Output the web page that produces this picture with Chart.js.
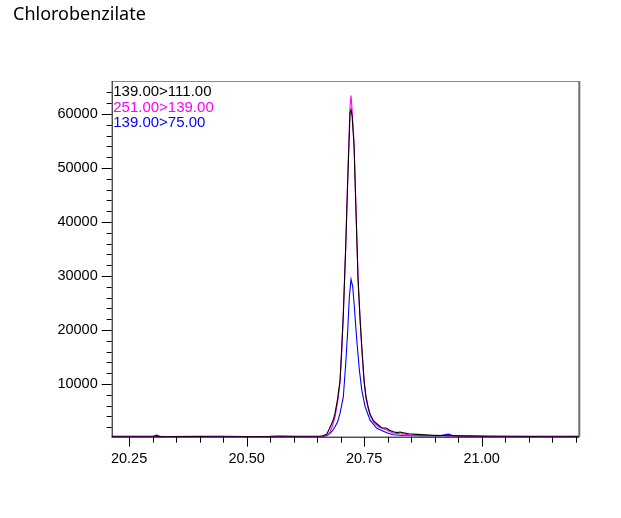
<!DOCTYPE html>
<html><head><meta charset="utf-8">
<script src="https://cdn.jsdelivr.net/npm/chart.js@4.4.1/dist/chart.umd.min.js"></script>
<style>html,body{margin:0;padding:0;background:#fff;}canvas{display:block;}</style>
</head><body>
<canvas id="c" width="621" height="518" style="width:621px;height:518px"></canvas>
<script>
const chartTitle = 'Chlorobenzilate';
const seriesNames = ['139.00>111.00', '251.00>139.00', '139.00>75.00'];
const seriesColors = ['#000000', '#ff00ff', '#0000ff'];

// 139.00>111.00 (black)
const blackTime = [20.213,20.25,20.30,20.33,20.40,20.45,20.50,20.55,20.57,20.60,20.64,20.655,20.662,20.6704,20.676,20.681,20.685,20.688,20.6935,20.6987,20.7022,20.7057,20.7108,20.7151,20.72,20.7221,20.7245,20.7285,20.7327,20.737,20.741,20.7449,20.7498,20.754,20.7583,20.7626,20.7705,20.7802,20.787,20.7981,20.8035,20.8122,20.82,20.8265,20.8335,20.845,20.862,20.88,20.8967,20.92,20.95,20.98,21.02,21.06,21.10,21.15,21.2076];
const blackCounts = [300,320,310,290,300,310,290,300,360,300,310,330,420,700,1700,2700,3500,4600,7200,10700,16500,23100,35400,47800,60200,60800,59500,54000,41700,29300,22500,16900,10700,7600,5800,4400,3100,2400,1900,1800,1450,1150,1000,1100,950,780,670,580,520,430,390,350,330,320,300,310,300];

// 251.00>139.00 (magenta)
const magentaTime = [20.213,20.30,20.40,20.50,20.60,20.65,20.665,20.672,20.678,20.683,20.688,20.6935,20.6987,20.7022,20.7057,20.7108,20.7151,20.72,20.7221,20.7245,20.7285,20.7327,20.737,20.741,20.7449,20.7498,20.754,20.7583,20.7626,20.7705,20.7802,20.7981,20.8035,20.8122,20.8265,20.845,20.87,20.90,20.95,21.00,21.10,21.2076];
const magentaCounts = [260,270,250,260,270,280,330,500,1200,2400,3900,6700,10300,16000,22800,35600,48600,61500,63400,60500,54500,42200,29600,22400,16600,10400,7300,5500,4200,2900,2100,1500,1250,900,800,600,480,420,340,300,270,260];

// 139.00>75.00 (blue)
const blueTime = [20.213,20.30,20.3083,20.315,20.40,20.50,20.60,20.66,20.6704,20.6774,20.683,20.688,20.6935,20.6987,20.7057,20.7108,20.7151,20.7185,20.7221,20.7257,20.7291,20.7342,20.7398,20.7449,20.7519,20.7626,20.7768,20.7981,20.8115,20.833,20.87,20.91,20.929,20.94,21.00,21.10,21.2076];
const blueCounts = [250,260,520,300,260,270,260,270,400,850,1400,2080,3000,4560,7650,13800,20000,26200,29400,28000,24300,18200,12600,8900,5800,3300,1800,960,600,450,380,400,720,420,300,270,260];

const xMajorTicks = [20.25, 20.50, 20.75, 21.00];
const xMinorTicks = [20.30,20.35,20.40,20.45,20.55,20.60,20.65,20.70,20.80,20.85,20.90,20.95,21.05,21.10,21.15,21.20];
const yMajorTicks = [10000, 20000, 30000, 40000, 50000, 60000];
const yMinorTicks = [2000,4000,6000,8000,12000,14000,16000,18000,22000,24000,26000,28000,32000,34000,36000,38000,42000,44000,46000,48000,52000,54000,56000,58000,62000,64000];

const xRange = [20.213, 21.2076];
const yRange = [240, 66100];

function toPoints(t, v) { return t.map((x, i) => ({ x: x, y: v[i] })); }

const frame = {
  id: 'frame',
  afterDraw(chart) {
    const { ctx, chartArea: a, scales: { x, y } } = chart;
    ctx.save();
    ctx.strokeStyle = '#8a8a8a'; ctx.lineWidth = 1;
    ctx.beginPath(); ctx.moveTo(a.left, a.top + 0.5); ctx.lineTo(a.right, a.top + 0.5); ctx.stroke();
    ctx.strokeStyle = '#707070'; ctx.lineWidth = 2;
    ctx.beginPath(); ctx.moveTo(a.right, a.top); ctx.lineTo(a.right, a.bottom); ctx.stroke();
    ctx.strokeStyle = '#000'; ctx.lineWidth = 1;
    ctx.beginPath();
    ctx.moveTo(a.left + 0.5, a.top); ctx.lineTo(a.left + 0.5, a.bottom + 0.5);
    ctx.moveTo(a.left, a.bottom + 0.5); ctx.lineTo(a.right, a.bottom + 0.5);
    ctx.stroke();
    ctx.beginPath();
    yMinorTicks.forEach(v => { const p = Math.round(y.getPixelForValue(v)) + 0.5; ctx.moveTo(a.left - 5, p); ctx.lineTo(a.left, p); });
    yMajorTicks.forEach(v => { const p = Math.round(y.getPixelForValue(v)) + 0.5; ctx.moveTo(a.left - 10, p); ctx.lineTo(a.left, p); });
    xMinorTicks.forEach(v => { const p = Math.round(x.getPixelForValue(v)) + 0.5; ctx.moveTo(p, a.bottom); ctx.lineTo(p, a.bottom + 6); });
    xMajorTicks.forEach(v => { const p = Math.round(x.getPixelForValue(v)) + 0.5; ctx.moveTo(p, a.bottom); ctx.lineTo(p, a.bottom + 10); });
    ctx.stroke();
    ctx.font = '15px "Liberation Sans"';
    ctx.textAlign = 'left'; ctx.textBaseline = 'alphabetic';
    seriesNames.forEach((n, i) => {
      ctx.fillStyle = seriesColors[i];
      ctx.fillText(n, a.left + 1.5, a.top + 15.4 + i * 15.4);
    });
    ctx.restore();
  }
};

new Chart(document.getElementById('c'), {
  type: 'line',
  data: {
    datasets: [
      { label: seriesNames[0], data: toPoints(blackTime, blackCounts), borderColor: seriesColors[0] },
      { label: seriesNames[1], data: toPoints(magentaTime, magentaCounts), borderColor: seriesColors[1] },
      { label: seriesNames[2], data: toPoints(blueTime, blueCounts), borderColor: seriesColors[2] }
    ]
  },
  options: {
    responsive: false,
    devicePixelRatio: 1,
    animation: false,
    datasets: { line: { borderWidth: 1.1, pointRadius: 0, tension: 0, fill: false } },
    layout: { padding: { left: 13, right: 41.7, top: 0, bottom: 41.3 } },
    plugins: {
      legend: { display: false },
      tooltip: { enabled: false },
      title: {
        display: true, text: chartTitle, align: 'start', color: '#000',
        font: { family: '"Noto Sans"', size: 18, weight: 'normal', lineHeight: 1.2 },
        padding: { top: 4, bottom: 55.4 }
      }
    },
    scales: {
      x: {
        type: 'linear', min: xRange[0], max: xRange[1],
        afterBuildTicks: s => { s.ticks = xMajorTicks.map(v => ({ value: v })); },
        afterFit: s => { s.height = 40; },
        grid: { display: false, drawTicks: false },
        border: { display: false },
        ticks: { padding: 14, maxRotation: 0, autoSkip: false, color: '#000',
          font: { family: '"Liberation Sans"', size: 14.5 },
          callback: v => Number(v).toFixed(2) }
      },
      y: {
        type: 'linear', min: yRange[0], max: yRange[1],
        afterBuildTicks: s => { s.ticks = yMajorTicks.map(v => ({ value: v })); },
        afterFit: s => { s.width = 98.7; },
        grid: { display: false, drawTicks: false },
        border: { display: false },
        ticks: { padding: 14, autoSkip: false, color: '#000',
          font: { family: '"Liberation Sans"', size: 14.5 },
          callback: v => String(v) }
      }
    }
  },
  plugins: [frame]
});
</script>
</body></html>
